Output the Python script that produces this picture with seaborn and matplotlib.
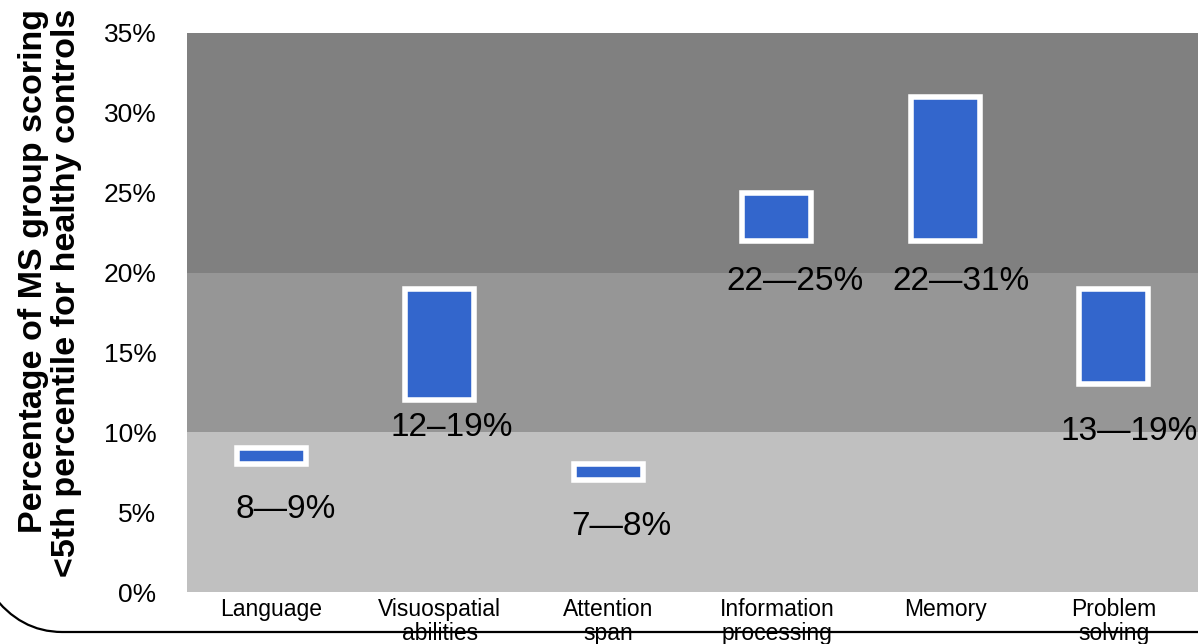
import matplotlib
matplotlib.use("Agg")
import matplotlib.pyplot as plt
import seaborn as sns
import numpy as np
from matplotlib.path import Path
from matplotlib.patches import PathPatch

# ---- data ----
categories = ["Language", "Visuospatial\nabilities", "Attention\nspan",
              "Information\nprocessing", "Memory", "Problem\nsolving"]
low_pct = [8, 12, 7, 22, 22, 13]
high_pct = [9, 19, 8, 25, 31, 19]
range_labels = ["8\u20149%", "12\u201319%", "7\u20148%", "22\u201425%", "22\u201431%", "13\u201419%"]
y_ticks = [0, 5, 10, 15, 20, 25, 30, 35]
y_tick_labels = [f"{v}%" for v in y_ticks]
bands = [(0, 10), (10, 20), (20, 35)]

# ---- layout / style ----
band_colors = ["#C0C0C0", "#969696", "#808080"]
bar_color = "#3366CC"
label_dx_px = [14, 12, 13, 18, 16, 15]
label_dy_px = [-54, -36, -55, -49, -49, -56]

sns.set_style("white")
plt.rcParams["font.family"] = ["Liberation Sans", "DejaVu Sans"]
plt.rcParams["text.color"] = "black"
plt.rcParams["xtick.color"] = "black"
plt.rcParams["ytick.color"] = "black"

W, H = 1198, 644
fig = plt.figure(figsize=(W / 100, H / 100), dpi=100)
ax = fig.add_axes([187 / W, 1 - 592 / H, (W - 187) / W, (592 - 33) / H])

for (b0, b1), c in zip(bands, band_colors):
    ax.axhspan(b0, b1, color=c, zorder=0, lw=0)

spans = [h - l for l, h in zip(low_pct, high_pct)]
sns.barplot(x=categories, y=spans, order=categories, color=bar_color,
            saturation=1, edgecolor="white", linewidth=4, width=0.41, ax=ax,
            zorder=2)
bar_patches = list(ax.containers[0])
for patch, lo in zip(bar_patches, low_pct):
    patch.set_y(lo)

for i, (lo, txt) in enumerate(zip(low_pct, range_labels)):
    ax.annotate(txt, xy=(i, lo), xytext=(label_dx_px[i], label_dy_px[i]),
                textcoords="offset pixels", ha="center", va="baseline",
                fontsize=24, color="black", zorder=5, annotation_clip=False)

ax.set_xlim(-0.5, len(categories) - 0.5)
ax.set_ylim(0, 35)
ax.set_yticks(y_ticks)
ax.set_yticklabels(y_tick_labels, fontsize=19, color="black")
ax.tick_params(axis="y", length=0, pad=22)
ax.set_xticks(range(len(categories)))
ax.set_xticklabels(categories, fontsize=16.5, linespacing=1.05, color="black")
ax.tick_params(axis="x", length=0, pad=4.5)
ax.set_xlabel("")
ax.set_ylabel("")
for s in ax.spines.values():
    s.set_visible(False)

fig.text(50 / W, 1 - 9 / H,
         "Percentage of MS group scoring\n<5th percentile for healthy controls",
         rotation=90, ha="center", va="top", multialignment="right",
         fontweight="bold", fontsize=24.5, linespacing=1.05, color="black")

# decorative bracket line at the bottom (figure pixel coords)
verts = [(-8, H - 594), (20, H - 632), (62, H - 632), (W + 5, H - 632)]
codes = [Path.MOVETO, Path.CURVE3, Path.CURVE3, Path.LINETO]
pp = PathPatch(Path(verts, codes), transform=None, fill=False,
               edgecolor="black", lw=1.6, zorder=10)
fig.patches.append(pp)

fig.savefig("out.png", dpi=100)
